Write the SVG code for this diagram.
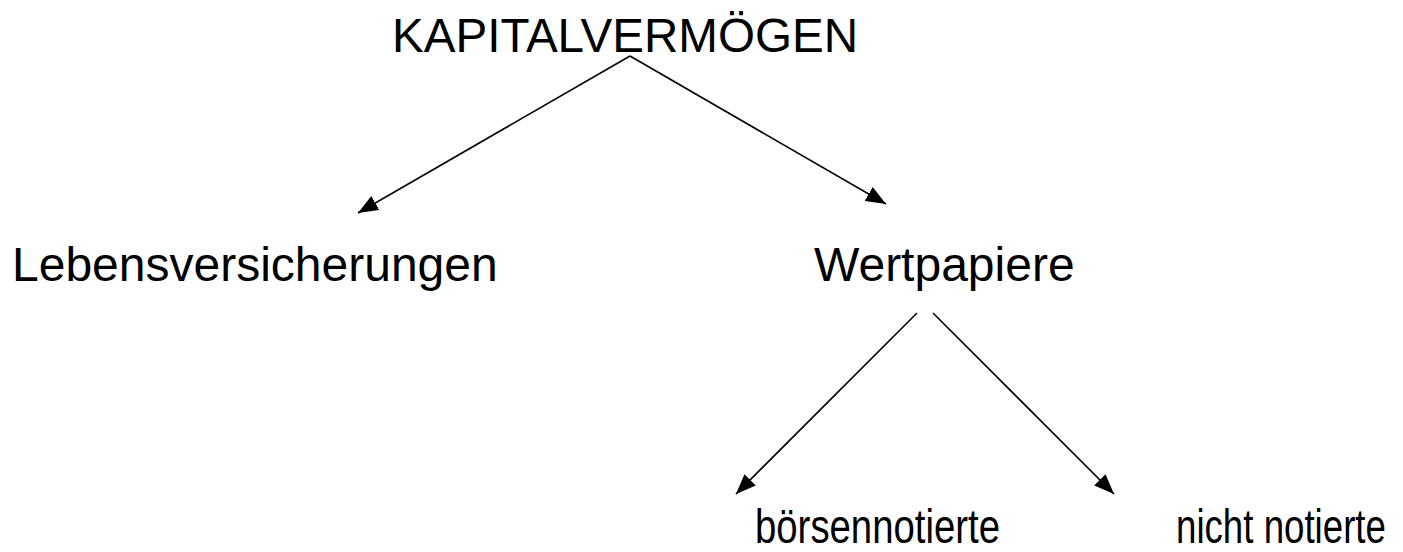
<svg xmlns="http://www.w3.org/2000/svg" width="1403" height="552" viewBox="0 0 1403 552">
  <style>
    .lbl { font-family: "Liberation Sans", Arial, sans-serif; font-size: 48px; fill: #000; }
    .edge { stroke: #000; stroke-width: 1.6; fill: none; marker-end: url(#arrow); }
  </style>
  <defs>
    <marker id="arrow" viewBox="0 0 20 16" refX="20" refY="8" markerWidth="20" markerHeight="16" markerUnits="userSpaceOnUse" orient="auto">
      <path d="M0,0 L20,8 L0,16 z" fill="#000"/>
    </marker>
  </defs>
  <rect width="1403" height="552" fill="#fff"/>
  <g id="connectors">
    <line class="edge" x1="630" y1="56" x2="358" y2="213"/>
    <line class="edge" x1="630" y1="56" x2="886" y2="204"/>
    <line class="edge" x1="917" y1="313" x2="736" y2="494"/>
    <line class="edge" x1="933" y1="313" x2="1114" y2="494"/>
  </g>
  <g id="kapitalvermoegen">
    <text class="lbl" x="392" y="52" textLength="466" lengthAdjust="spacingAndGlyphs">KAPITALVERMÖGEN</text>
  </g>
  <g id="lebensversicherungen">
    <text class="lbl" x="12" y="281">Lebensversicherungen</text>
  </g>
  <g id="wertpapiere">
    <text class="lbl" x="814" y="281">Wertpapiere</text>
  </g>
  <g id="boersennotierte">
    <text class="lbl" transform="translate(755,543) scale(0.7985,1)">börsennotierte</text>
  </g>
  <g id="nicht-notierte">
    <text class="lbl" transform="translate(1176,543) scale(0.764,1)">nicht notierte</text>
  </g>
</svg>
